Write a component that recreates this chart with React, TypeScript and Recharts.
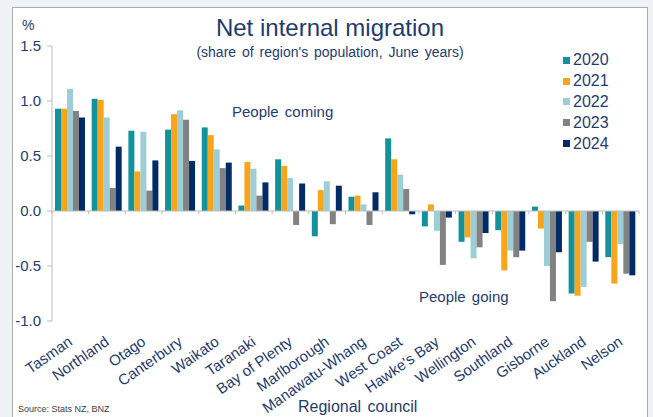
import React from 'react';
import { BarChart, Bar, XAxis, YAxis, ReferenceLine, Legend } from 'recharts';

const regions = [
  'Tasman', 'Northland', 'Otago', 'Canterbury', 'Waikato', 'Taranaki', 'Bay of Plenty', 'Marlborough',
  'Manawatu-Whang', 'West Coast', "Hawke's Bay", 'Wellington', 'Southland', 'Gisborne', 'Auckland', 'Nelson',
];

const y2020 = [0.93, 1.02, 0.73, 0.74, 0.76, 0.05, 0.47, -0.23, 0.13, 0.66, -0.14, -0.28, -0.175, 0.04, -0.75, -0.42];
const y2021 = [0.93, 1.01, 0.36, 0.88, 0.69, 0.445, 0.41, 0.19, 0.14, 0.47, 0.06, -0.24, -0.54, -0.16, -0.77, -0.66];
const y2022 = [1.11, 0.85, 0.72, 0.915, 0.56, 0.385, 0.3, 0.27, 0.06, 0.33, -0.18, -0.43, -0.36, -0.5, -0.69, -0.3];
const y2023 = [0.91, 0.21, 0.185, 0.83, 0.39, 0.14, -0.127, -0.12, -0.127, 0.2, -0.49, -0.33, -0.42, -0.82, -0.28, -0.57];
const y2024 = [0.85, 0.585, 0.46, 0.455, 0.44, 0.26, 0.25, 0.23, 0.17, -0.03, -0.06, -0.2, -0.36, -0.375, -0.46, -0.585];

const yTicks = [-1, -0.5, 0, 0.5, 1, 1.5];

const series = [
  { key: '2020', values: y2020, color: '#12939b' },
  { key: '2021', values: y2021, color: '#f8a51c' },
  { key: '2022', values: y2022, color: '#9dcdd5' },
  { key: '2023', values: y2023, color: '#828282' },
  { key: '2024', values: y2024, color: '#002b66' },
];

const data = regions.map((region, i) => {
  const row: Record<string, string | number> = { region };
  series.forEach(s => { row[s.key] = s.values[i]; });
  return row;
});

const navy = '#1f3c6e';
const font = '"Liberation Sans", Arial, sans-serif';
const axisGrey = '#bdbdbd';

// slanted region names, anchored at their end just under the band centre
const CategoryTick = ({ x, y, payload }: any) => (
  <text
    x={x + 3}
    y={y + 15}
    transform={`rotate(-35, ${x + 3}, ${y + 15})`}
    textAnchor="end"
    fill={navy}
    fontSize={15}
    fontFamily={font}
  >
    {payload.value}
  </text>
);

const LegendList = ({ payload }: any) => (
  <div style={{ fontFamily: font, fontSize: 16, color: navy }}>
    {payload.map((p: any) => (
      <div key={p.value} style={{ display: 'flex', alignItems: 'center', height: 20.8 }}>
        <span style={{ width: 7, height: 7, background: p.color, marginRight: 3 }} />
        {p.value}
      </div>
    ))}
  </div>
);

export default function App() {
  return (
    <div style={{ position: 'fixed', left: 0, top: 0, width: 653, height: 417, background: '#eef1f6', overflow: 'hidden' }}>
      <div style={{ position: 'absolute', left: 12, top: 7, width: 634, height: 420, background: '#fff', border: '1px solid #acacac' }} />
      <div style={{ position: 'absolute', left: 0, top: 0, width: 653, textAlign: 'center', fontFamily: font, color: navy }}>
        <div style={{ position: 'absolute', left: 0, width: 660, top: 14, fontSize: 24 }}>Net internal migration</div>
        <div style={{ position: 'absolute', left: 0, width: 660, top: 44, fontSize: 14, wordSpacing: 2 }}>
          (share of region's population, June years)
        </div>
      </div>
      <div style={{ position: 'absolute', left: 22, top: 17, fontFamily: font, fontSize: 14, color: navy }}>%</div>
      <div style={{ position: 'absolute', left: 232, top: 103, fontFamily: font, fontSize: 15, color: navy, wordSpacing: 2 }}>People coming</div>
      <div style={{ position: 'absolute', left: 419, top: 288, fontFamily: font, fontSize: 15, color: navy, wordSpacing: 2 }}>People going</div>
      <div style={{ position: 'absolute', left: 298, top: 398, fontFamily: font, fontSize: 16, color: navy, wordSpacing: 2 }}>Regional council</div>
      <div style={{ position: 'absolute', left: 18, top: 404, fontFamily: font, fontSize: 9, color: '#404040' }}>Source: Stats NZ, BNZ</div>
      <BarChart
        style={{ position: 'absolute', left: 0, top: 0 }}
        width={653}
        height={417}
        data={data}
        margin={{ top: 46, right: 14, bottom: 0, left: 0 }}
        barCategoryGap={3}
        barGap={0}
      >
        <XAxis
          dataKey="region"
          interval={0}
          height={96}
          axisLine={false}
          tickLine={false}
          tick={<CategoryTick />}
        />
        <YAxis
          width={52}
          domain={[-1, 1.5]}
          ticks={yTicks}
          interval={0}
          allowDataOverflow
          tickFormatter={(v: number) => v.toFixed(1)}
          axisLine={{ stroke: axisGrey }}
          tickLine={{ stroke: axisGrey }}
          tickSize={5}
          tickMargin={6}
          tick={{ fill: navy, fontSize: 15, fontFamily: font }}
        />
        <ReferenceLine y={0} stroke={axisGrey} />
        {regions.map(r => (
          <ReferenceLine
            key={r}
            segment={[{ x: r, y: 0 }, { x: r, y: -0.03 }]}
            position="start"
            stroke={axisGrey}
          />
        ))}
        <ReferenceLine
          segment={[{ x: regions[regions.length - 1], y: 0 }, { x: regions[regions.length - 1], y: -0.03 }]}
          position="end"
          stroke={axisGrey}
        />
        {series.map(s => (
          <Bar key={s.key} dataKey={s.key} fill={s.color} isAnimationActive={false} />
        ))}
        <Legend
          layout="vertical"
          align="center"
          verticalAlign="middle"
          wrapperStyle={{ left: 563, top: 50, width: 'auto' }}
          content={<LegendList />}
        />
      </BarChart>
    </div>
  );
}
